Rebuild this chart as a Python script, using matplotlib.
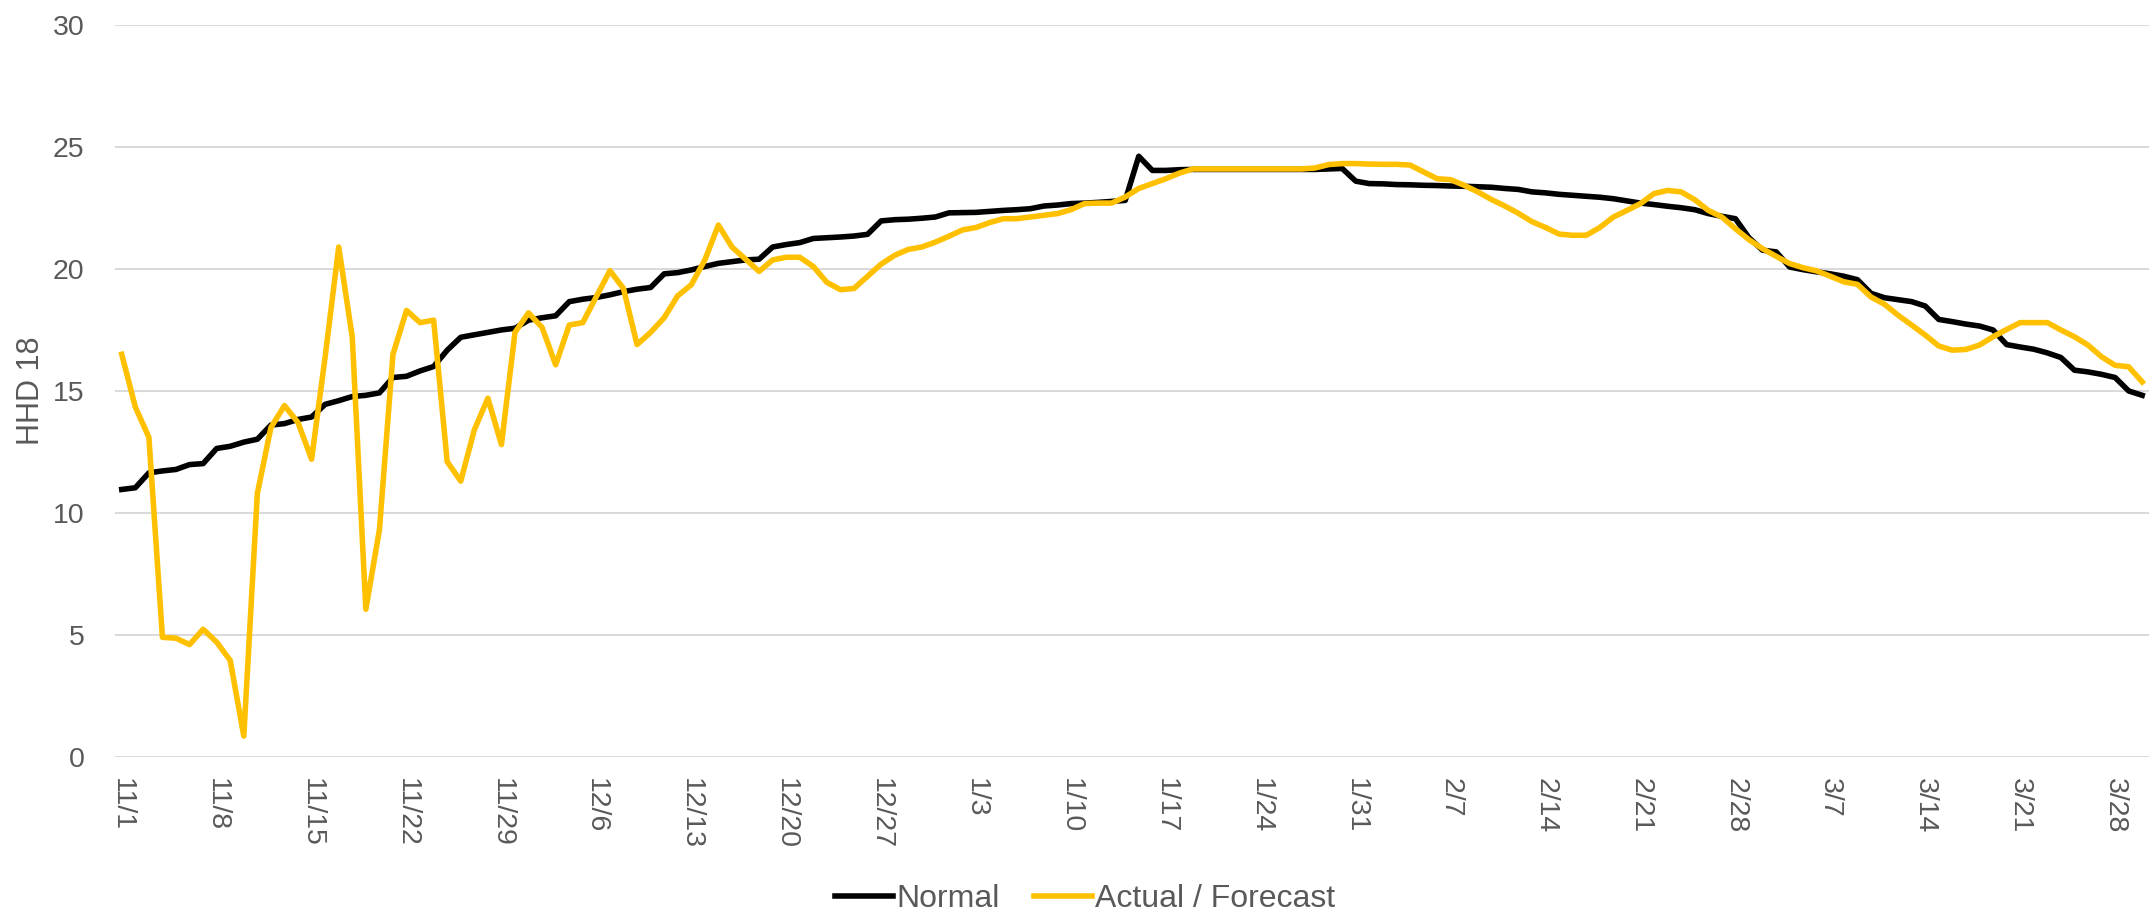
import datetime as dt
import matplotlib
matplotlib.use("Agg")
import matplotlib.pyplot as plt
import numpy as np

plt.rcParams["font.family"] = ["Liberation Sans", "DejaVu Sans"]

start = dt.date(2024, 11, 1)
n_days = 150

normal = [
    10.96, 11.03, 11.64, 11.72, 11.78, 11.98, 12.02, 12.64, 12.73, 12.90,
    13.02, 13.60, 13.66, 13.83, 13.93, 14.45, 14.60, 14.77, 14.82, 14.92,
    15.55, 15.60, 15.82, 16.00, 16.67, 17.20, 17.30, 17.40, 17.50, 17.57,
    17.90, 18.00, 18.08, 18.66, 18.76, 18.83, 18.94, 19.07, 19.17, 19.24,
    19.80, 19.85, 19.96, 20.10, 20.23, 20.30, 20.37, 20.40, 20.90, 21.00,
    21.08, 21.25, 21.28, 21.31, 21.35, 21.42, 21.97, 22.02, 22.04, 22.08,
    22.13, 22.30, 22.31, 22.32, 22.36, 22.40, 22.43, 22.47, 22.58, 22.62,
    22.68, 22.70, 22.73, 22.77, 22.81, 24.62, 24.04, 24.04, 24.07, 24.08,
    24.08, 24.08, 24.08, 24.08, 24.08, 24.08, 24.08, 24.08, 24.08, 24.10,
    24.12, 23.60, 23.50, 23.49, 23.46, 23.45, 23.43, 23.42, 23.40, 23.39,
    23.37, 23.35, 23.30, 23.26, 23.16, 23.12, 23.06, 23.02, 22.98, 22.94,
    22.88, 22.79, 22.70, 22.64, 22.57, 22.51, 22.43, 22.27, 22.16, 22.06,
    21.28, 20.77, 20.70, 20.08, 19.97, 19.88, 19.80, 19.70, 19.56, 19.00,
    18.82, 18.74, 18.66, 18.48, 17.93, 17.84, 17.74, 17.66, 17.50, 16.90,
    16.80, 16.71, 16.56, 16.37, 15.85, 15.78, 15.68, 15.55, 15.00, 14.82,
]

actual = [
    16.50, 14.34, 13.10, 4.90, 4.86, 4.60, 5.23, 4.70, 3.95, 0.85,
    10.80, 13.50, 14.40, 13.70, 12.20, 16.40, 20.90, 17.20, 6.05, 9.30,
    16.50, 18.30, 17.80, 17.90, 12.10, 11.30, 13.40, 14.70, 12.80, 17.40,
    18.20, 17.60, 16.07, 17.70, 17.80, 18.87, 19.93, 19.20, 16.90, 17.40,
    18.00, 18.90, 19.35, 20.37, 21.80, 20.90, 20.40, 19.90, 20.37, 20.48,
    20.48, 20.10, 19.45, 19.15, 19.20, 19.70, 20.20, 20.56, 20.80, 20.90,
    21.10, 21.34, 21.60, 21.70, 21.90, 22.06, 22.06, 22.13, 22.20, 22.27,
    22.43, 22.68, 22.70, 22.70, 22.95, 23.30, 23.50, 23.70, 23.93, 24.10,
    24.10, 24.10, 24.10, 24.10, 24.10, 24.10, 24.10, 24.10, 24.14, 24.28,
    24.32, 24.32, 24.30, 24.29, 24.29, 24.26, 23.98, 23.70, 23.66, 23.43,
    23.16, 22.85, 22.58, 22.28, 21.94, 21.70, 21.43, 21.38, 21.38, 21.70,
    22.13, 22.40, 22.68, 23.09, 23.22, 23.16, 22.84, 22.40, 22.13, 21.65,
    21.20, 20.83, 20.52, 20.22, 20.05, 19.92, 19.70, 19.47, 19.37, 18.85,
    18.55, 18.10, 17.70, 17.29, 16.84, 16.67, 16.70, 16.88, 17.22, 17.52,
    17.80, 17.80, 17.80, 17.50, 17.22, 16.88, 16.40, 16.05, 15.99, 15.37,
]

days = np.arange(n_days)
tick_days = days[::7]
tick_labels = [f"{d.month}/{d.day}" for d in (start + dt.timedelta(days=int(k)) for k in tick_days)]

grey = "#595959"
fig = plt.figure(figsize=(21.49, 9.14), dpi=100)
ax = fig.add_axes([0.0535, 0.172, 0.9465, 0.8006])

ax.plot(days, normal, color="black", lw=4, label="Normal")
ax.plot(days, actual, color="#FFC000", lw=4, label="Actual / Forecast")

ax.set_xlim(-0.5, 149.5)
ax.set_ylim(0, 30)
ax.set_yticks(range(0, 31, 5))
ax.set_xticks(tick_days)
ax.set_xticklabels(tick_labels, rotation=-90, ha="center", va="top")
ax.tick_params(axis="both", length=0, labelsize=20.5, labelcolor=grey)
ax.tick_params(axis="x", pad=15)
ax.tick_params(axis="y", pad=22)
ax.grid(axis="y", color="#D9D9D9", lw=1.4)
ax.set_axisbelow(True)
for s in ax.spines.values():
    s.set_visible(False)

fig.text(0.0145, 0.572, "HHD 18", rotation=90, ha="center", va="center", fontsize=22, color=grey)

fig.legend(loc="center", bbox_to_anchor=(0.505, 0.016), ncol=2, frameon=False,
           fontsize=23, labelcolor=grey, handlelength=1.8, handletextpad=0.1,
           columnspacing=1.1, borderpad=0)

fig.savefig("out.png", dpi=100, facecolor="white")
